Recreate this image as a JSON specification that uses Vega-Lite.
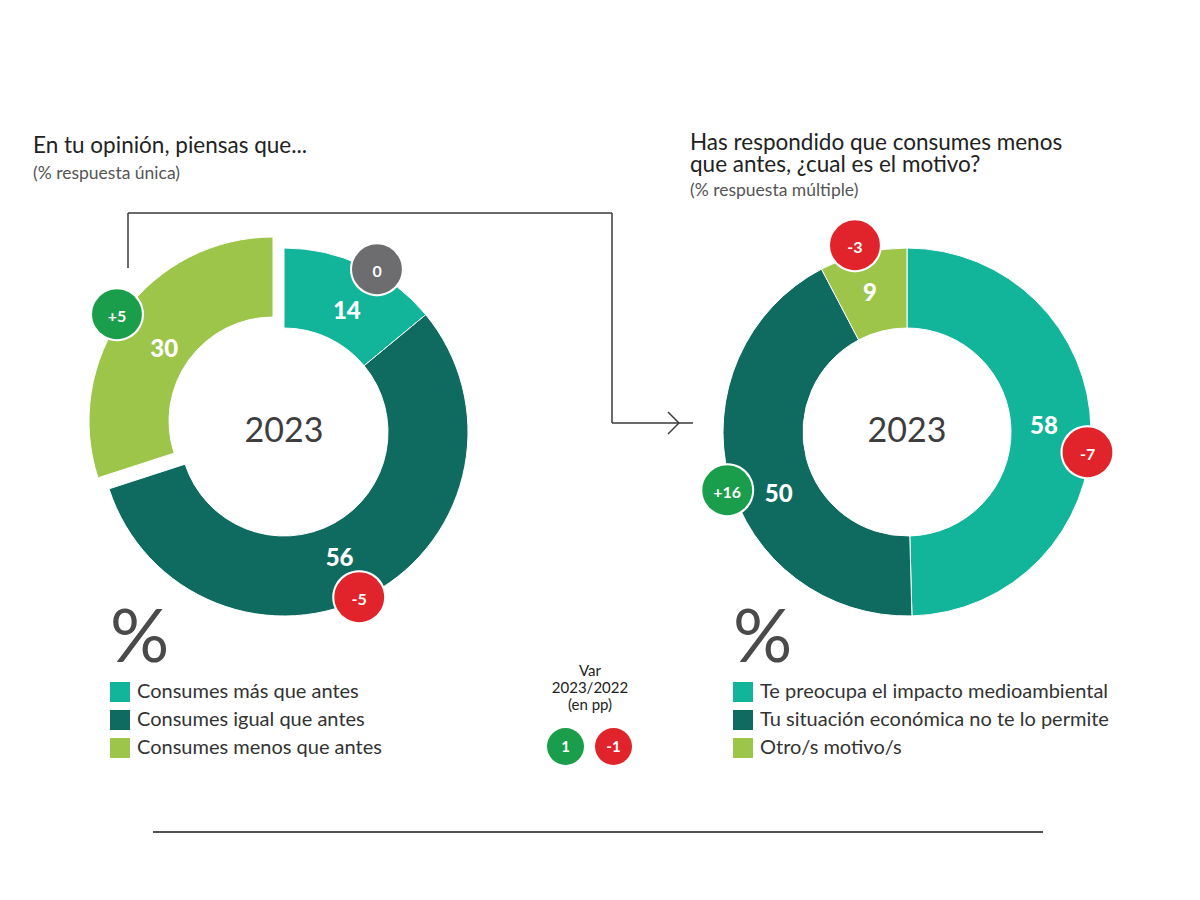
{
  "$schema": "https://vega.github.io/schema/vega-lite/v6.json",
  "background": "white",
  "padding": 0,
  "config": {"view": {"stroke": null}, "font": "Lato"},
  "datasets": {
    "izq": [
      {"categoria": "Consumes más que antes", "valor": 14, "var": "0", "signo": "0", "orden": 1},
      {"categoria": "Consumes igual que antes", "valor": 56, "var": "-5", "signo": "-1", "orden": 2},
      {"categoria": "Consumes menos que antes", "valor": 30, "var": "+5", "signo": "1", "orden": 3}
    ],
    "der": [
      {"categoria": "Te preocupa el impacto medioambiental", "valor": 58, "var": "-7", "signo": "-1", "orden": 1},
      {"categoria": "Tu situación económica no te lo permite", "valor": 50, "var": "+16", "signo": "1", "orden": 2},
      {"categoria": "Otro/s motivo/s", "valor": 9, "var": "-3", "signo": "-1", "orden": 3}
    ]
  },
  "spacing": 60,
  "bounds": "flush",
  "resolve": {
    "scale": {"color": "independent", "fill": "independent", "theta": "independent"},
    "legend": {"color": "independent", "fill": "independent"}
  },
  "hconcat": [
    {
      "width": 568,
      "height": 864,
      "data": {"name": "izq"},
      "title": {
        "text": "En tu opinión, piensas que...",
        "subtitle": "(% respuesta única)",
        "anchor": "start",
        "frame": "group",
        "offset": -182,
        "dx": 33,
        "font": "Lato",
        "fontSize": 22.5,
        "fontWeight": "normal",
        "color": "#222222",
        "subtitleFont": "Lato",
        "subtitleFontSize": 17.5,
        "subtitleColor": "#555555",
        "subtitlePadding": 7
      },
      "layer": [
        {
          "mark": {"type": "arc", "innerRadius": 104, "outerRadius": 184, "stroke": "white", "strokeWidth": 1},
          "encoding": {
            "theta": {"field": "valor", "type": "quantitative", "stack": true},
            "order": {"field": "orden", "type": "quantitative"},
            "color": {
              "field": "categoria",
              "type": "nominal",
              "scale": {
                "domain": ["Consumes más que antes", "Consumes igual que antes", "Consumes menos que antes"],
                "range": ["#12b49a", "#0f6b5f", "#9cc54a"]
              },
              "legend": {
                "orient": "none",
                "legendX": 110,
                "legendY": 604,
                "title": "%",
                "titleFont": "Lato",
                "titleFontSize": 74,
                "titleFontWeight": "normal",
                "titleColor": "#4a4a4a",
                "titlePadding": 4,
                "symbolType": "square",
                "symbolSize": 400,
                "symbolStrokeWidth": 0,
                "symbolOpacity": 1,
                "labelFont": "Lato",
                "labelFontSize": 20,
                "labelColor": "#333333",
                "labelOffset": 7,
                "rowPadding": 8,
                "labelLimit": 500,
                "padding": 0
              }
            },
            "opacity": {"condition": {"test": "datum.orden === 3", "value": 0}, "value": 1}
          }
        },
        {
          "mark": {"type": "arc", "innerRadius": 104, "outerRadius": 184, "stroke": "white", "strokeWidth": 1, "xOffset": -11, "yOffset": -11},
          "encoding": {
            "theta": {"field": "valor", "type": "quantitative", "stack": true},
            "order": {"field": "orden", "type": "quantitative"},
            "color": {"field": "categoria", "type": "nominal", "legend": null},
            "opacity": {"condition": {"test": "datum.orden === 3", "value": 1}, "value": 0}
          }
        },
        {
          "mark": {"type": "text", "radius": 135, "thetaOffset": 0.044, "font": "Lato", "fontSize": 24, "fontWeight": 900, "color": "white"},
          "encoding": {
            "theta": {"field": "valor", "type": "quantitative", "stack": true},
            "order": {"field": "orden", "type": "quantitative"},
            "text": {"condition": {"test": "datum.orden === 1", "field": "valor", "type": "quantitative"}, "value": ""}
          }
        },
        {
          "mark": {"type": "text", "radius": 139, "thetaOffset": 0.091, "font": "Lato", "fontSize": 24, "fontWeight": 900, "color": "white"},
          "encoding": {
            "theta": {"field": "valor", "type": "quantitative", "stack": true},
            "order": {"field": "orden", "type": "quantitative"},
            "text": {"condition": {"test": "datum.orden === 2", "field": "valor", "type": "quantitative"}, "value": ""}
          }
        },
        {
          "mark": {"type": "text", "radius": 145, "thetaOffset": -0.03, "font": "Lato", "fontSize": 24, "fontWeight": 900, "color": "white"},
          "encoding": {
            "theta": {"field": "valor", "type": "quantitative", "stack": true},
            "order": {"field": "orden", "type": "quantitative"},
            "text": {"condition": {"test": "datum.orden === 3", "field": "valor", "type": "quantitative"}, "value": ""}
          }
        },
        {
          "mark": {"type": "text", "radius": 185, "thetaOffset": 0.087, "dy": -5, "font": "DejaVu Sans", "fontSize": 68, "stroke": "white", "strokeWidth": 2, "baseline": "middle", "align": "center"},
          "encoding": {
            "theta": {"field": "valor", "type": "quantitative", "stack": true},
            "order": {"field": "orden", "type": "quantitative"},
            "text": {"condition": {"test": "datum.orden === 1", "value": "●"}, "value": ""},
            "fill": {
              "field": "signo",
              "type": "nominal",
              "scale": {"domain": ["1", "-1", "0"], "range": ["#1a9e4b", "#e1242b", "#6d6d6f"]},
              "legend": {
                "orient": "none",
                "legendX": 547,
                "legendY": 664,
                "direction": "horizontal",
                "title": ["Var", "2023/2022", "(en pp)"],
                "titleFont": "Lato",
                "titleFontSize": 15,
                "titleFontWeight": "normal",
                "titleColor": "#222222",
                "titleAlign": "center",
                "titleAnchor": "middle",
                "titleLineHeight": 17,
                "titlePadding": 15,
                "values": ["1", "-1"],
                "symbolType": "circle",
                "symbolSize": 1369,
                "symbolStrokeWidth": 0,
                "symbolOpacity": 1,
                "labelOffset": -18.5,
                "labelAlign": "center",
                "labelFont": "Lato",
                "labelFontSize": 15,
                "labelFontWeight": "bold",
                "labelColor": "white",
                "columnPadding": 11,
                "padding": 0
              }
            }
          }
        },
        {
          "mark": {"type": "text", "radius": 184, "thetaOffset": 0.082, "dy": -5, "font": "DejaVu Sans", "fontSize": 68, "stroke": "white", "strokeWidth": 2, "baseline": "middle", "align": "center"},
          "encoding": {
            "theta": {"field": "valor", "type": "quantitative", "stack": true},
            "order": {"field": "orden", "type": "quantitative"},
            "text": {"condition": {"test": "datum.orden === 2", "value": "●"}, "value": ""},
            "fill": {"field": "signo", "type": "nominal", "legend": null}
          }
        },
        {
          "mark": {"type": "text", "radius": 203, "thetaOffset": -0.024, "dy": -5, "font": "DejaVu Sans", "fontSize": 68, "stroke": "white", "strokeWidth": 2, "baseline": "middle", "align": "center"},
          "encoding": {
            "theta": {"field": "valor", "type": "quantitative", "stack": true},
            "order": {"field": "orden", "type": "quantitative"},
            "text": {"condition": {"test": "datum.orden === 3", "value": "●"}, "value": ""},
            "fill": {"field": "signo", "type": "nominal", "legend": null}
          }
        },
        {
          "mark": {"type": "text", "radius": 185, "thetaOffset": 0.087, "font": "Lato", "fontSize": 16, "fontWeight": "bold", "color": "white"},
          "encoding": {
            "theta": {"field": "valor", "type": "quantitative", "stack": true},
            "order": {"field": "orden", "type": "quantitative"},
            "text": {"condition": {"test": "datum.orden === 1", "field": "var", "type": "nominal"}, "value": ""}
          }
        },
        {
          "mark": {"type": "text", "radius": 184, "thetaOffset": 0.082, "font": "Lato", "fontSize": 16, "fontWeight": "bold", "color": "white"},
          "encoding": {
            "theta": {"field": "valor", "type": "quantitative", "stack": true},
            "order": {"field": "orden", "type": "quantitative"},
            "text": {"condition": {"test": "datum.orden === 2", "field": "var", "type": "nominal"}, "value": ""}
          }
        },
        {
          "mark": {"type": "text", "radius": 203, "thetaOffset": -0.024, "font": "Lato", "fontSize": 16, "fontWeight": "bold", "color": "white"},
          "encoding": {
            "theta": {"field": "valor", "type": "quantitative", "stack": true},
            "order": {"field": "orden", "type": "quantitative"},
            "text": {"condition": {"test": "datum.orden === 3", "field": "var", "type": "nominal"}, "value": ""}
          }
        },
        {
          "data": {"values": [{"anio": "2023"}]},
          "mark": {"type": "text", "font": "Lato", "fontSize": 34, "color": "#3d3d3d"},
          "encoding": {"text": {"field": "anio", "type": "nominal"}}
        },
        {"data": {"values": [{}]}, "mark": {"type": "rule", "color": "#3a3a3a", "strokeWidth": 1.5}, "encoding": {"x": {"value": 128}, "y": {"value": 213}, "x2": {"value": 128}, "y2": {"value": 268}}},
        {"data": {"values": [{}]}, "mark": {"type": "rule", "color": "#3a3a3a", "strokeWidth": 1.5}, "encoding": {"x": {"value": 128}, "y": {"value": 213}, "x2": {"value": 612}, "y2": {"value": 213}}},
        {"data": {"values": [{}]}, "mark": {"type": "rule", "color": "#3a3a3a", "strokeWidth": 1.5}, "encoding": {"x": {"value": 612}, "y": {"value": 213}, "x2": {"value": 612}, "y2": {"value": 423}}},
        {"data": {"values": [{}]}, "mark": {"type": "rule", "color": "#3a3a3a", "strokeWidth": 1.5}, "encoding": {"x": {"value": 612}, "y": {"value": 423}, "x2": {"value": 693}, "y2": {"value": 423}}},
        {"data": {"values": [{}]}, "mark": {"type": "rule", "color": "#3a3a3a", "strokeWidth": 1.5}, "encoding": {"x": {"value": 668}, "y": {"value": 412}, "x2": {"value": 679}, "y2": {"value": 423}}},
        {"data": {"values": [{}]}, "mark": {"type": "rule", "color": "#3a3a3a", "strokeWidth": 1.5}, "encoding": {"x": {"value": 668}, "y": {"value": 434}, "x2": {"value": 679}, "y2": {"value": 423}}},
        {"data": {"values": [{}]}, "mark": {"type": "rule", "color": "#1a1a1a", "strokeWidth": 1.5}, "encoding": {"x": {"value": 153}, "y": {"value": 832}, "x2": {"value": 1043}, "y2": {"value": 832}}}
      ]
    },
    {
      "width": 558,
      "height": 864,
      "data": {"name": "der"},
      "title": {
        "text": ["Has respondido que consumes menos", "que antes, ¿cual es el motivo?"],
        "subtitle": "(% respuesta múltiple)",
        "anchor": "start",
        "frame": "group",
        "offset": -199,
        "dx": 62,
        "font": "Lato",
        "fontSize": 22.5,
        "fontWeight": "normal",
        "lineHeight": 22,
        "color": "#222222",
        "subtitleFont": "Lato",
        "subtitleFontSize": 17.5,
        "subtitleColor": "#555555",
        "subtitlePadding": 5
      },
      "layer": [
        {
          "mark": {"type": "arc", "innerRadius": 104, "outerRadius": 184, "stroke": "white", "strokeWidth": 1},
          "encoding": {
            "theta": {"field": "valor", "type": "quantitative", "stack": true},
            "order": {"field": "orden", "type": "quantitative"},
            "color": {
              "field": "categoria",
              "type": "nominal",
              "scale": {
                "domain": ["Te preocupa el impacto medioambiental", "Tu situación económica no te lo permite", "Otro/s motivo/s"],
                "range": ["#12b49a", "#0f6b5f", "#9cc54a"]
              },
              "legend": {
                "orient": "none",
                "legendX": 105,
                "legendY": 604,
                "title": "%",
                "titleFont": "Lato",
                "titleFontSize": 74,
                "titleFontWeight": "normal",
                "titleColor": "#4a4a4a",
                "titlePadding": 4,
                "symbolType": "square",
                "symbolSize": 400,
                "symbolStrokeWidth": 0,
                "symbolOpacity": 1,
                "labelFont": "Lato",
                "labelFontSize": 20,
                "labelColor": "#333333",
                "labelOffset": 7,
                "rowPadding": 8,
                "labelLimit": 500,
                "padding": 0
              }
            }
          }
        },
        {
          "mark": {"type": "text", "radius": 137, "thetaOffset": -0.026, "font": "Lato", "fontSize": 24, "fontWeight": 900, "color": "white"},
          "encoding": {
            "theta": {"field": "valor", "type": "quantitative", "stack": true},
            "order": {"field": "orden", "type": "quantitative"},
            "text": {"condition": {"test": "datum.orden === 1", "field": "valor", "type": "quantitative"}, "value": ""}
          }
        },
        {
          "mark": {"type": "text", "radius": 143, "thetaOffset": -0.203, "font": "Lato", "fontSize": 24, "fontWeight": 900, "color": "white"},
          "encoding": {
            "theta": {"field": "valor", "type": "quantitative", "stack": true},
            "order": {"field": "orden", "type": "quantitative"},
            "text": {"condition": {"test": "datum.orden === 2", "field": "valor", "type": "quantitative"}, "value": ""}
          }
        },
        {
          "mark": {"type": "text", "radius": 143, "thetaOffset": -0.021, "font": "Lato", "fontSize": 24, "fontWeight": 900, "color": "white"},
          "encoding": {
            "theta": {"field": "valor", "type": "quantitative", "stack": true},
            "order": {"field": "orden", "type": "quantitative"},
            "text": {"condition": {"test": "datum.orden === 3", "field": "valor", "type": "quantitative"}, "value": ""}
          }
        },
        {
          "mark": {"type": "text", "radius": 182, "thetaOffset": 0.14, "dy": -5, "font": "DejaVu Sans", "fontSize": 68, "stroke": "white", "strokeWidth": 2, "baseline": "middle", "align": "center"},
          "encoding": {
            "theta": {"field": "valor", "type": "quantitative", "stack": true},
            "order": {"field": "orden", "type": "quantitative"},
            "text": {"condition": {"test": "datum.orden === 1", "value": "●"}, "value": ""},
            "fill": {
              "field": "signo",
              "type": "nominal",
              "scale": {"domain": ["1", "-1", "0"], "range": ["#1a9e4b", "#e1242b", "#6d6d6f"]},
              "legend": null
            }
          }
        },
        {
          "mark": {"type": "text", "radius": 190, "thetaOffset": -0.072, "dy": -5, "font": "DejaVu Sans", "fontSize": 68, "stroke": "white", "strokeWidth": 2, "baseline": "middle", "align": "center"},
          "encoding": {
            "theta": {"field": "valor", "type": "quantitative", "stack": true},
            "order": {"field": "orden", "type": "quantitative"},
            "text": {"condition": {"test": "datum.orden === 2", "value": "●"}, "value": ""},
            "fill": {"field": "signo", "type": "nominal", "legend": null}
          }
        },
        {
          "mark": {"type": "text", "radius": 191, "thetaOffset": -0.035, "dy": -5, "font": "DejaVu Sans", "fontSize": 68, "stroke": "white", "strokeWidth": 2, "baseline": "middle", "align": "center"},
          "encoding": {
            "theta": {"field": "valor", "type": "quantitative", "stack": true},
            "order": {"field": "orden", "type": "quantitative"},
            "text": {"condition": {"test": "datum.orden === 3", "value": "●"}, "value": ""},
            "fill": {"field": "signo", "type": "nominal", "legend": null}
          }
        },
        {
          "mark": {"type": "text", "radius": 182, "thetaOffset": 0.14, "font": "Lato", "fontSize": 16, "fontWeight": "bold", "color": "white"},
          "encoding": {
            "theta": {"field": "valor", "type": "quantitative", "stack": true},
            "order": {"field": "orden", "type": "quantitative"},
            "text": {"condition": {"test": "datum.orden === 1", "field": "var", "type": "nominal"}, "value": ""}
          }
        },
        {
          "mark": {"type": "text", "radius": 190, "thetaOffset": -0.072, "font": "Lato", "fontSize": 16, "fontWeight": "bold", "color": "white"},
          "encoding": {
            "theta": {"field": "valor", "type": "quantitative", "stack": true},
            "order": {"field": "orden", "type": "quantitative"},
            "text": {"condition": {"test": "datum.orden === 2", "field": "var", "type": "nominal"}, "value": ""}
          }
        },
        {
          "mark": {"type": "text", "radius": 191, "thetaOffset": -0.035, "font": "Lato", "fontSize": 16, "fontWeight": "bold", "color": "white"},
          "encoding": {
            "theta": {"field": "valor", "type": "quantitative", "stack": true},
            "order": {"field": "orden", "type": "quantitative"},
            "text": {"condition": {"test": "datum.orden === 3", "field": "var", "type": "nominal"}, "value": ""}
          }
        },
        {
          "data": {"values": [{"anio": "2023"}]},
          "mark": {"type": "text", "font": "Lato", "fontSize": 34, "color": "#3d3d3d"},
          "encoding": {"text": {"field": "anio", "type": "nominal"}}
        }
      ]
    }
  ]
}
